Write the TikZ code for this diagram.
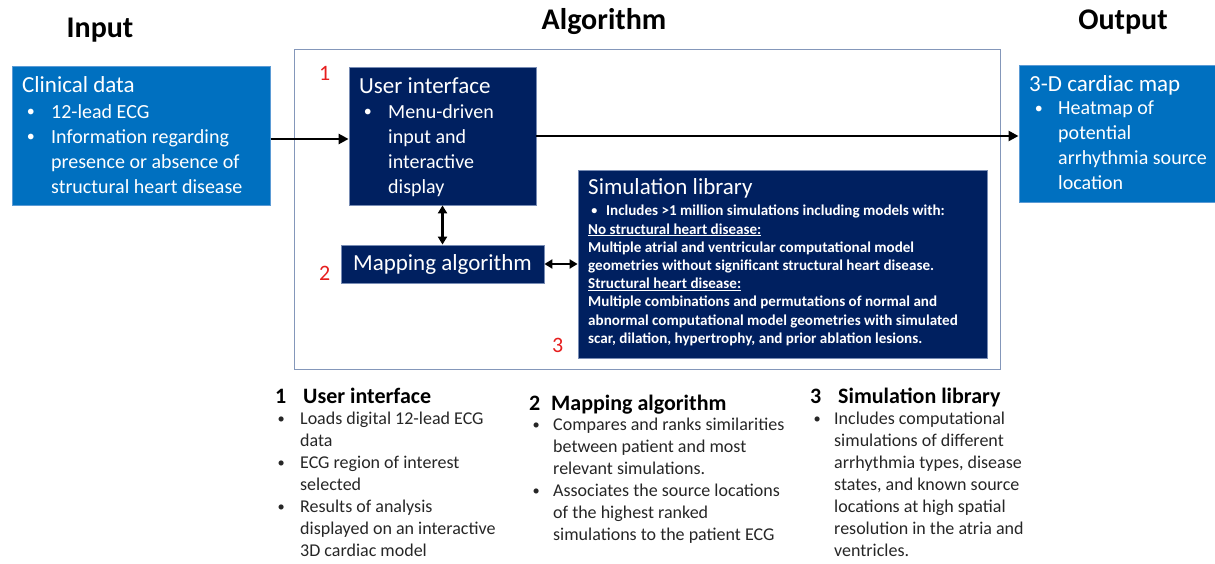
\documentclass[tikz,border=0pt]{standalone}
\usepackage{fontspec}
\setmainfont{Carlito}
\usetikzlibrary{arrows.meta}
\definecolor{clinblue}{RGB}{0,112,192}
\definecolor{navy}{RGB}{0,32,96}
\definecolor{edgeblue}{RGB}{91,155,213}
\definecolor{edgenavy}{RGB}{120,140,180}
\definecolor{framecol}{RGB}{132,151,186}
\definecolor{numred}{RGB}{230,30,30}
\definecolor{bodytext}{RGB}{38,38,38}
% small list bullet followed by a fixed indent
\newcommand\bl[1]{\makebox[#1][l]{\hspace*{0.08em}\raisebox{0.08em}{\scalebox{0.8}{•}}}}
\newcommand\ind[1]{\hspace*{#1}}
\tikzset{
  x=1pt, y=-1pt,
  lightbox/.style={rectangle, fill=clinblue, draw=edgeblue, line width=1pt, inner sep=0pt},
  darkbox/.style={rectangle, fill=navy, draw=edgenavy, line width=0.8pt, inner sep=0pt},
  txt/.style={anchor=north west, inner sep=0pt, align=left},
  boxtitle/.style={txt, text=white, font=\fontsize{23}{27}\selectfont},
  boxlist/.style={txt, text=white, font=\fontsize{20}{25}\selectfont},
  smalllist/.style={txt, text=white, font=\fontsize{15.1}{18.2}\selectfont\bfseries},
  heading/.style={anchor=base, inner sep=0pt, font=\fontsize{30}{34}\selectfont\bfseries},
  subhead/.style={txt, text=black, font=\fontsize{22}{26}\selectfont\bfseries},
  sublist/.style={txt, text=bodytext, font=\fontsize{18}{22}\selectfont},
  num/.style={anchor=north west, inner sep=0pt, text=numred, font=\fontsize{22}{26}\selectfont},
  arr/.style={-{Triangle[length=10pt,width=10pt]}, line width=2.8pt},
  dblarr/.style={{Triangle[length=8pt,width=9pt]}-{Triangle[length=8pt,width=9pt]}, line width=2.4pt}
}
\begin{document}
\begin{tikzpicture}
\useasboundingbox (0,0) rectangle (1215,564);

% column headings
\node[heading] (hin) at (100,38) {Input};
\node[heading] (halg) at (604,30) {Algorithm};
\node[heading] (hout) at (1123,30) {Output};

% algorithm frame
\draw[framecol, line width=1pt] (294,50) rectangle (1000,369);

% input box
\node[lightbox, minimum width=258pt, minimum height=139pt] (clin) at (141,136.5) {};
\node[boxtitle] (clint) at (22,76) {Clinical data};
\node[boxlist] (clinl) at (25,104) {\bl{26pt}12-lead ECG\\
  \bl{26pt}Information regarding\\
  \ind{26pt}presence or absence of\\
  \ind{26pt}structural heart disease};

% user interface box
\node[darkbox, minimum width=187pt, minimum height=138pt] (ui) at (442.5,136) {};
\node[boxtitle] (uit) at (359,77) {User interface};
\node[boxlist] (uil) at (362,104) {\bl{26pt}Menu-driven\\
  \ind{26pt}input and\\
  \ind{26pt}interactive\\
  \ind{26pt}display};

% mapping algorithm box
\node[darkbox, minimum width=203pt, minimum height=38pt, text=white,
      font=\fontsize{23}{27}\selectfont] (mapalg) at (442.5,264) {Mapping algorithm};

% simulation library box
\node[darkbox, minimum width=409pt, minimum height=188pt] (simlib) at (782.5,264) {};
\node[boxtitle] (simt) at (588,178) {Simulation library};
\node[smalllist] (siml) at (590,205) {\bl{16pt}Includes >1 million simulations including models with:\\
  \ind{-2pt}\underline{No structural heart disease:}\\
  \ind{-2pt}Multiple atrial and ventricular computational model\\
  \ind{-2pt}geometries without significant structural heart disease.\\
  \ind{-2pt}\underline{Structural heart disease:}\\
  \ind{-2pt}Multiple combinations and permutations of normal and\\
  \ind{-2pt}abnormal computational model geometries with simulated\\
  \ind{-2pt}scar, dilation, hypertrophy, and prior ablation lesions.};

% output box
\node[lightbox, minimum width=197pt, minimum height=137pt] (map) at (1117.5,134.5) {};
\node[boxtitle] (mapt) at (1029,75) {3-D cardiac map};
\node[boxlist] (mapl) at (1033,101) {\bl{25pt}Heatmap of\\
  \ind{25pt}potential\\
  \ind{25pt}arrhythmia source\\
  \ind{25pt}location};

% step numbers
\node[num] (n1) at (319,66) {1};
\node[num] (n2) at (319,266) {2};
\node[num] (n3) at (552,338) {3};

% connectors
\draw[arr] (clin.east |- 0,139) -- (ui.west |- 0,139);
\draw[arr] (ui.east) -- (map.west |- ui.east);
\draw[dblarr] (ui.south) -- (mapalg.north);
\draw[dblarr] (mapalg.east) -- (simlib.west |- mapalg.east);

% step descriptions
\node[subhead] (d1t) at (275,388) {\makebox[28pt][l]{1}User interface};
\node[sublist] (d1l) at (276,412) {\bl{24pt}Loads digital 12-lead ECG\\
  \ind{24pt}data\\
  \bl{24pt}ECG region of interest\\
  \ind{24pt}selected\\
  \bl{24pt}Results of analysis\\
  \ind{24pt}displayed on an interactive\\
  \ind{24pt}3D cardiac model};

\node[subhead] (d2t) at (529,395) {\makebox[22pt][l]{2}Mapping algorithm};
\node[sublist] (d2l) at (531,418) {\bl{22pt}Compares and ranks similarities\\
  \ind{22pt}between patient and most\\
  \ind{22pt}relevant simulations.\\
  \bl{22pt}Associates the source locations\\
  \ind{22pt}of the highest ranked\\
  \ind{22pt}simulations to the patient ECG};

\node[subhead] (d3t) at (810,388) {\makebox[28pt][l]{3}Simulation library};
\node[sublist] (d3l) at (812,412) {\bl{22pt}Includes computational\\
  \ind{22pt}simulations of different\\
  \ind{22pt}arrhythmia types, disease\\
  \ind{22pt}states, and known source\\
  \ind{22pt}locations at high spatial\\
  \ind{22pt}resolution in the atria and\\
  \ind{22pt}ventricles.};
\end{tikzpicture}
\end{document}
